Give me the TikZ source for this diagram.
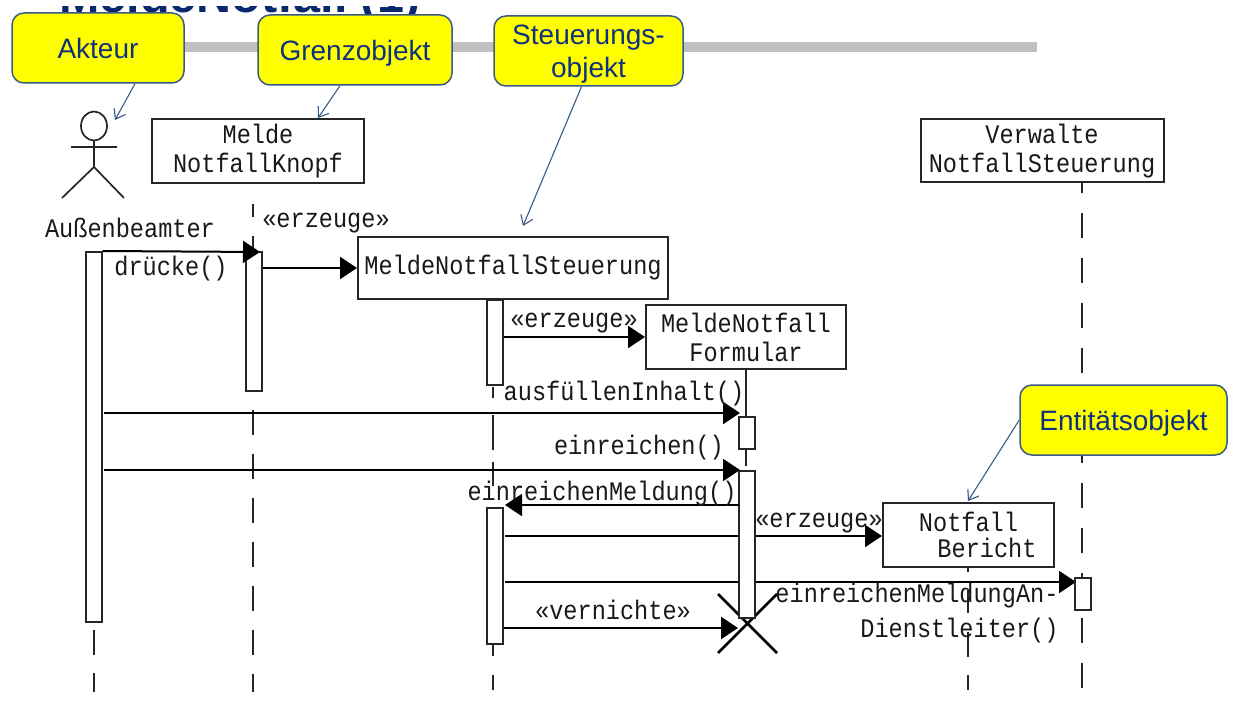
\documentclass[tikz,border=0pt]{standalone}
\usepackage{fontspec}
\setmainfont{Liberation Sans}
\setmonofont[FakeStretch=0.88]{Liberation Mono}
\usepackage{xcolor}
\usetikzlibrary{arrows.meta,positioning}
\definecolor{noteYellow}{RGB}{255,255,0}
\definecolor{noteBlue}{RGB}{55,90,135}
\definecolor{noteText}{RGB}{15,50,125}
\definecolor{titleBlue}{RGB}{10,40,110}
\definecolor{barGray}{RGB}{192,192,192}
\tikzset{
  note/.style={draw=noteBlue, fill=noteYellow, rounded corners=12pt, line width=1.5pt, text=noteText,
    font=\fontsize{28}{33}\selectfont, align=center, inner sep=0pt, text depth=0pt},
  notearrow/.style={draw=noteBlue, line width=1.1pt, -{Straight Barb[length=9pt,width=13pt]}},
  object/.style={draw=black!85, fill=white, line width=2pt, font=\fontsize{26.8}{29}\ttfamily\selectfont,
    text=black!90, align=center, inner sep=0pt},
  activation/.style={draw=black!85, fill=white, line width=2pt, inner sep=0pt, minimum width=16pt},
  lifeline/.style={draw=black!85, line width=1.8pt},
  msg/.style={draw=black, line width=2pt, -{Triangle[length=17pt,width=22pt]}},
  msgtext/.style={font=\fontsize{26.8}{35}\ttfamily\selectfont, text=black!90, inner sep=0pt},
}
\begin{document}
\begin{tikzpicture}[x=1pt,y=-1pt]
    \useasboundingbox (0,0) rectangle (1249,708);
    \clip (0,0) rectangle (1249,708);

    % title and rule behind the notes
    \node[font=\fontsize{48.5}{50}\bfseries\selectfont, text=titleBlue, anchor=base west, inner sep=0pt] (title) at (59,13) {MeldeNotfall (1)};
    \fill[white] (0,0) rectangle (1249,6);
    \fill[barGray] (100,42) rectangle (1037,52);

    % lifelines
    \draw[lifeline, dash pattern=on 25pt off 18pt] (94,630) -- (94,692);
    \draw[lifeline] (253,204) -- (253,217) (253,236) -- (253,252);
    \draw[lifeline, dash pattern=on 25pt off 19pt] (253,410) -- (253,692);
    \draw[lifeline, dash pattern=on 25pt off 20pt, dash phase=15pt] (1082,183) -- (1082,692);
    \foreach \ya/\yb in {387/398,415/450,462/486,645/656,675/690}
        \draw[lifeline] (493,\ya) -- (493,\yb);
    \foreach \ya/\yb in {567/572,590/613,632/657,675/690}
        \draw[lifeline] (968,\ya) -- (968,\yb);
    \draw[lifeline] (746,370) -- (746,417) (746,449) -- (746,466);

    % actor
    \draw[line width=1.7pt, black!85] (94,126) ellipse (13 and 14.5)
        (94,141) -- (94,167) (71,147) -- (117,147) (62,198) -- (94,167) -- (124,198);
    \node[msgtext] (actor) at (130,228) {Außenbeamter};

    % objects
    \node[object, minimum width=212pt, minimum height=64pt] (knopf) at (258,151) {Melde\\NotfallKnopf};
    \node[object, minimum width=310pt, minimum height=62pt] (steuer) at (513,268) {MeldeNotfallSteuerung};
    \node[object, minimum width=200pt, minimum height=64pt] (formular) at (746,337) {MeldeNotfall\\Formular};
    \node[object, minimum width=171pt, minimum height=64pt] (bericht) at (968.5,534.5) {Notfall\\[-3pt]\hspace*{37pt}Bericht};
    \node[object, minimum width=243pt, minimum height=63pt] (verwalte) at (1042,151) {Verwalte\\NotfallSteuerung};

    % destruction mark
    \draw[black, line width=2.5pt] (718,653) -- (777,594) (718,594) -- (777,653);

    % messages running behind the bars
    \coordinate (m413) at (104,413);
    \coordinate (m470) at (104,470);
    \coordinate (m536) at (505,536);
    \coordinate (m582) at (505,582);
    \coordinate (m505) at (739,505);
    \coordinate (t413) at (740,413);
    \coordinate (t470) at (740,470);
    \coordinate (t505) at (505,505);
    \coordinate (t582) at (1076,582);
    \draw[msg] (m536) -- (bericht.west |- m536);
    \draw[msg] (m582) -- (t582);

    % activation bars
    \node[activation, minimum height=370pt] (barA) at (93.5,437) {};
    \node[activation, minimum height=139pt] (barK) at (254,321.5) {};
    \node[activation, minimum height=85pt] (barSa) at (495,342.5) {};
    \node[activation, minimum height=32pt] (barFa) at (747,433) {};
    \node[activation, minimum height=147pt] (barFb) at (747,544.5) {};
    \node[activation, minimum height=136pt] (barSb) at (495,576) {};
    \node[activation, minimum height=32pt] (barV) at (1083,594) {};

    % notes
    \node[note, minimum width=172pt, minimum height=70pt] (akteur) at (98,48) {Akteur};
    \node[note, minimum width=194pt, minimum height=70pt] (grenz) at (355,50) {Grenzobjekt};
    \node[note, minimum width=189pt, minimum height=70pt] (steuerung) at (588.5,51) {Steuerungs-\\objekt};
    \node[note, minimum width=207pt, minimum height=70pt] (entity) at (1123.5,420) {Entitätsobjekt};

    % note pointers
    \coordinate (tipA) at (115,120);
    \coordinate (tipG) at (318,118);
    \coordinate (tipS) at (523,226);
    \coordinate (tipE) at (968,501);
    \draw[notearrow] (akteur.south) ++(37,0) -- (tipA);
    \draw[notearrow] (grenz.south) ++(-15,0) -- (tipG);
    \draw[notearrow] (steuerung.south) ++(-7,0) -- (tipS);
    \draw[notearrow] (entity.west) -- (tipE);

    % messages
    \coordinate (t252) at (260,252);
    \coordinate (t628) at (738,628);
    \draw[msg] (barA.north east) -- (t252);
    \draw[msg] (barK.east |- steuer.west) -- (steuer.west);
    \draw[msg] (barSa.east |- formular.west) -- (formular.west);
    \draw[msg] (m413) -- (t413);
    \draw[msg] (m470) -- (t470);
    \draw[msg] (m505) -- (t505);
    \draw[msg] (barSb.east |- t628) -- (t628);

    % message labels
    \node[msgtext] (lerzeugeA) at (326,223) {«erzeuge»};
    \node[msgtext] (ldruecke) at (171,269) {drücke()};
    \node[msgtext] (lerzeugeB) at (574,323) {«erzeuge»};
    \node[msgtext] (lausfuellen) at (624,394) {ausfüllenInhalt()};
    \node[msgtext] (leinreichen) at (639,448) {einreichen()};
    \node[msgtext] (lmeldung) at (602,494) {einreichenMeldung()};
    \node[msgtext] (lerzeugeC) at (819,523) {«erzeuge»};
    \node[msgtext] (lvernichte) at (613,610) {«vernichte»};
    \node[msgtext, align=right] (lan) at (917,613) {einreichenMeldungAn-\\Dienstleiter()};
\end{tikzpicture}
\end{document}
